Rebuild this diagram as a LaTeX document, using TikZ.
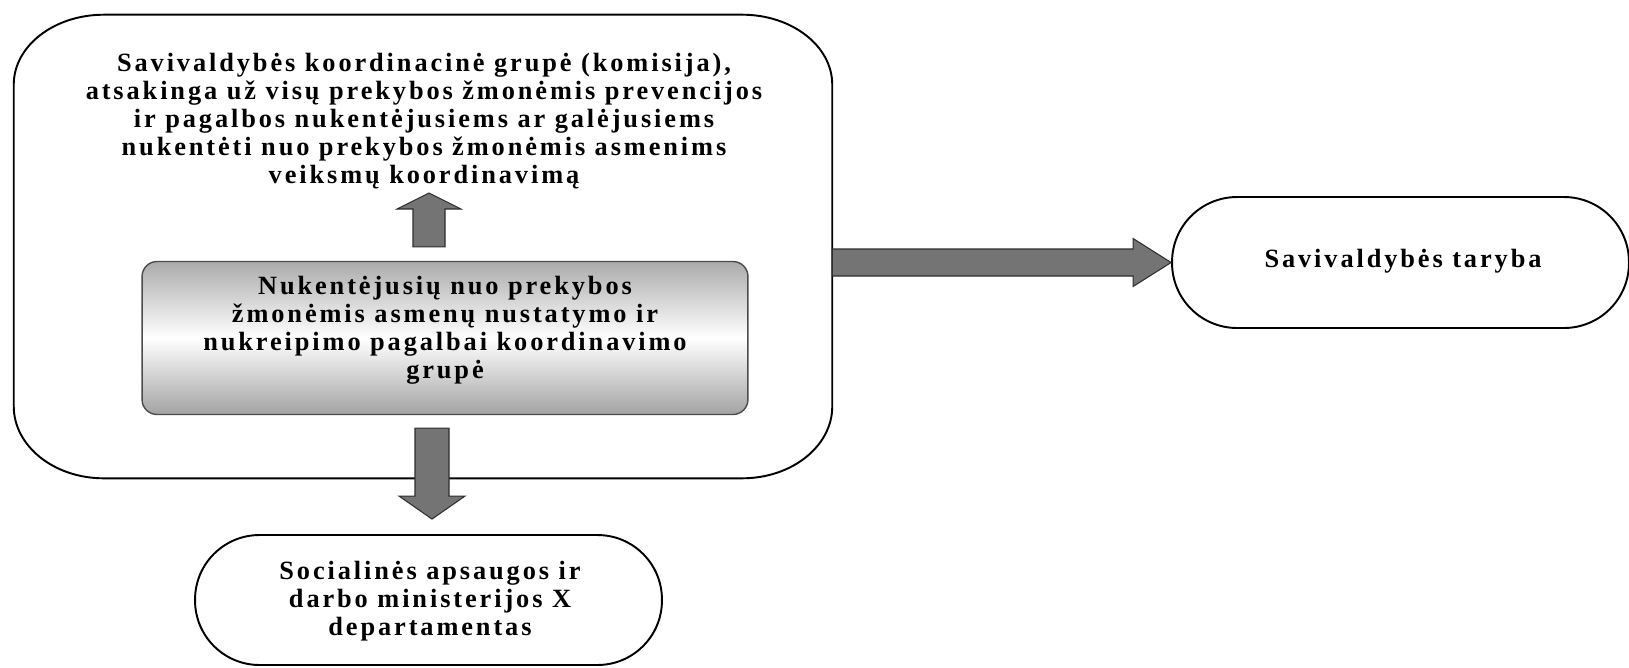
\documentclass[tikz,border=0pt]{standalone}
\usepackage{fontspec}
\setmainfont{Liberation Serif}[LetterSpace=11]
\usetikzlibrary{calc}
\definecolor{arrowgray}{HTML}{747474}
\definecolor{edgegray}{HTML}{2E2E2E}
\begin{document}
\begin{tikzpicture}[x=0.02cm,y=-0.02cm,
  txt/.style={align=center,inner sep=0pt,font=\fontsize{15}{15.9}\selectfont\bfseries},
  blockarr/.style={fill=arrowgray,draw=edgegray,line width=0.6pt,line join=miter},
  outline/.style={draw=black,line width=1.1pt},
  plainbox/.style={inner sep=0pt}]
\useasboundingbox[fill=white] (0,0) rectangle (1629,667);

% big container
\node[plainbox,minimum width=16.36cm,minimum height=9.26cm] (big) at (423,246.5) {};
\draw[outline] ($(big.north west)+(90,0)$) -- ($(big.north east)+(-90,0)$)
  arc[start angle=90,end angle=0,x radius=1.8cm,y radius=1.4cm]
  -- ($(big.south east)+(0,-72)$)
  arc[start angle=0,end angle=-90,x radius=1.8cm,y radius=1.44cm]
  -- ($(big.south west)+(90,0)$)
  arc[start angle=270,end angle=180,x radius=1.8cm,y radius=1.44cm]
  -- ($(big.north west)+(0,70)$)
  arc[start angle=180,end angle=90,x radius=1.8cm,y radius=1.4cm] -- cycle;
\node[txt] (toptext) at (424,121) {Savivaldybės koordinacinė grupė (komisija),\\atsakinga už visų prekybos žmonėmis prevencijos\\ir pagalbos nukentėjusiems ar galėjusiems\\nukentėti nuo prekybos žmonėmis asmenims\\veiksmų koordinavimą};

% inner shaded box
\node[plainbox,draw=black!70,line width=0.8pt,rounded corners=0.3cm,
  top color=black!33,bottom color=black!36,middle color=white,
  minimum width=12.12cm,minimum height=3.06cm] (inner) at (445,338) {};
\node[txt] (innertext) at (445,330) {Nukentėjusių nuo prekybos\\žmonėmis asmenų nustatymo ir\\nukreipimo pagalbai koordinavimo\\grupė};

% right box
\node[plainbox,outline,rounded corners=1.3cm,minimum width=9.14cm,minimum height=2.62cm] (rbox) at (1400.5,262.5) {};
\node[txt] (rtext) at (1403,261) {Savivaldybės taryba};

% bottom box
\node[plainbox,outline,rounded corners=1.29cm,minimum width=9.34cm,minimum height=2.6cm] (bbox) at (428.5,600) {};
\node[txt] (btext) at (430,601) {Socialinės apsaugos ir\\darbo ministerijos X\\departamentas};

% up arrow
\coordinate (upbase) at ($(inner.north)+(-16,-14)$);
\coordinate (uptip) at (upbase |- 0,193);
\draw[blockarr] ($(upbase)+(-16,0)$) -- ($(uptip)+(-16,16)$) -- ($(uptip)+(-32,16)$) -- (uptip)
  -- ($(uptip)+(32,16)$) -- ($(uptip)+(16,16)$) -- ($(upbase)+(16,0)$) -- cycle;

% down arrow
\coordinate (downtop) at ($(inner.south)+(-13,13)$);
\coordinate (downtip) at ($(downtop |- bbox.north)+(0,-15)$);
\draw[blockarr] ($(downtop)+(-17,0)$) -- ($(downtip)+(-17,-23)$) -- ($(downtip)+(-33,-23)$) -- (downtip)
  -- ($(downtip)+(33,-23)$) -- ($(downtip)+(17,-23)$) -- ($(downtop)+(17,0)$) -- cycle;

% right arrow
\coordinate (rtip) at (rbox.west);
\coordinate (rstart) at (big.east |- rtip);
\draw[blockarr] ($(rstart)+(0,-13.5)$) -- ($(rtip)+(-38,-13.5)$) -- ($(rtip)+(-38,-24)$) -- (rtip)
  -- ($(rtip)+(-38,24)$) -- ($(rtip)+(-38,13.5)$) -- ($(rstart)+(0,13.5)$) -- cycle;
\end{tikzpicture}
\end{document}
